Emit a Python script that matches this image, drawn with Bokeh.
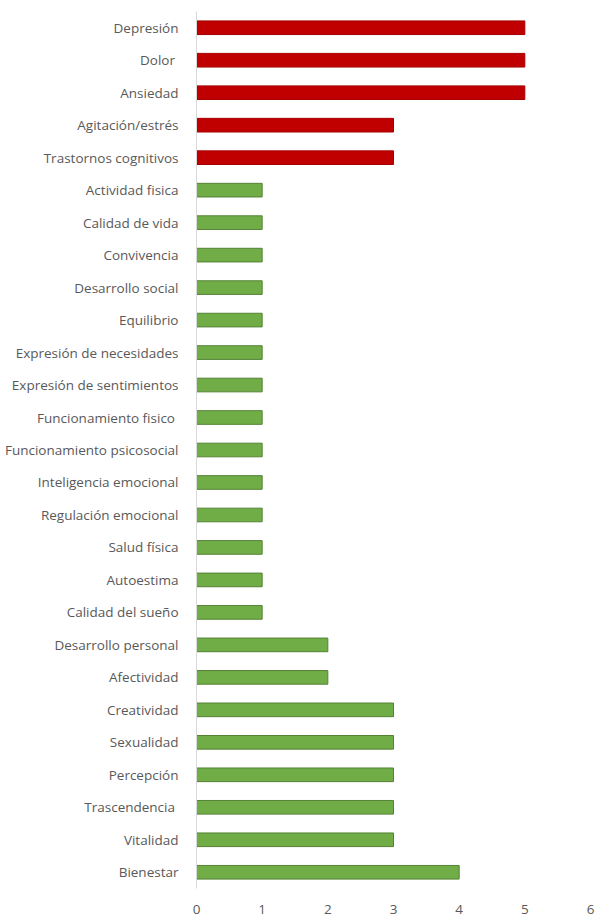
from bokeh.plotting import figure
from bokeh.embed import file_html
from bokeh.resources import INLINE
from bokeh.models import ColumnDataSource, FactorRange, Range1d, FixedTicker

categories = [
    "Depresión", "Dolor ", "Ansiedad", "Agitación/estrés", "Trastornos cognitivos",
    "Actividad fisica", "Calidad de vida", "Convivencia", "Desarrollo social", "Equilibrio",
    "Expresión de necesidades", "Expresión de sentimientos", "Funcionamiento fisico ",
    "Funcionamiento psicosocial", "Inteligencia emocional", "Regulación emocional",
    "Salud física", "Autoestima", "Calidad del sueño", "Desarrollo personal", "Afectividad",
    "Creatividad", "Sexualidad", "Percepción", "Trascendencia ", "Vitalidad", "Bienestar",
]
values = [5, 5, 5, 3, 3,
          1, 1, 1, 1, 1, 1, 1, 1, 1, 1, 1, 1, 1, 1,
          2, 2, 3, 3, 3, 3, 3, 4]
groups = ["neg"] * 5 + ["pos"] * 22

fill_map = {"neg": "#C00000", "pos": "#70AD47"}
line_map = {"neg": "#A50000", "pos": "#548235"}

src = ColumnDataSource(dict(
    cat=categories,
    val=values,
    fill=[fill_map[g] for g in groups],
    line=[line_map[g] for g in groups],
))

p = figure(
    width=596, height=917,
    y_range=FactorRange(*reversed(categories), range_padding=0),
    x_range=Range1d(0, 6),
    output_backend="svg", toolbar_location=None,
    min_border_left=196, min_border_right=6, min_border_top=11, min_border_bottom=29,
)
p.hbar(y="cat", right="val", left=0, height=0.42, source=src,
       fill_color="fill", line_color="line", line_width=1)

p.outline_line_color = None
p.xgrid.grid_line_color = None
p.ygrid.grid_line_color = None
p.background_fill_color = "white"
p.border_fill_color = "white"

p.xaxis.ticker = FixedTicker(ticks=[0, 1, 2, 3, 4, 5, 6])
p.xaxis.axis_line_color = None
p.xaxis.major_tick_line_color = None
p.xaxis.minor_tick_line_color = None
p.xaxis.major_label_text_font = "Open Sans"
p.xaxis.major_label_text_font_size = "13.5px"
p.xaxis.major_label_text_color = "#595959"
p.xaxis.major_label_standoff = 10

p.yaxis.axis_line_color = "#D9D9D9"
p.yaxis.axis_line_width = 1
p.yaxis.major_tick_line_color = None
p.yaxis.minor_tick_line_color = None
p.yaxis.major_label_text_font = "Open Sans"
p.yaxis.major_label_text_font_size = "13.5px"
p.yaxis.major_label_text_color = "#595959"
p.yaxis.major_label_standoff = 12

open("out.html", "w").write(file_html(p, INLINE))
